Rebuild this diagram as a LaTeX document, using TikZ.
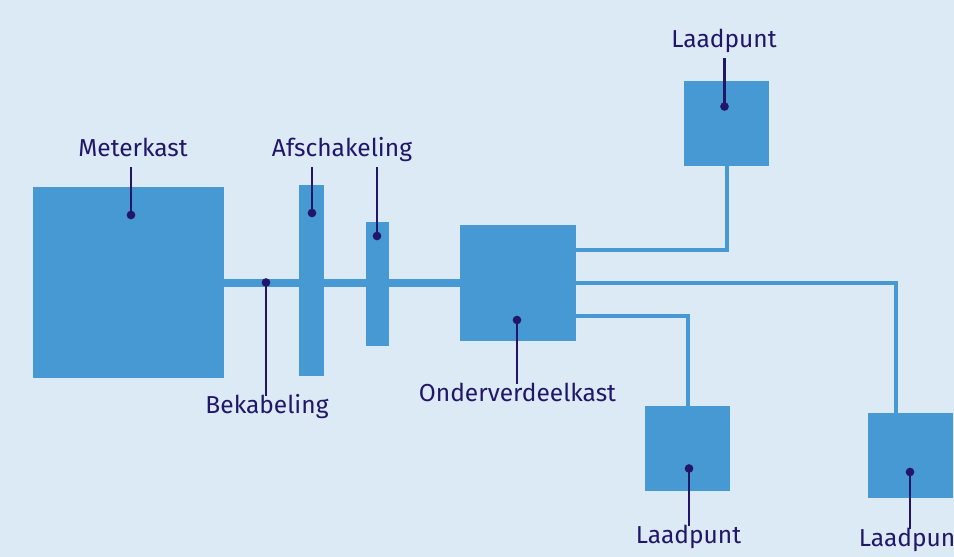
\documentclass[tikz,border=0pt]{standalone}
\usepackage{fontspec}
\setmainfont{Fira Sans}
\usetikzlibrary{positioning}
\definecolor{achter}{HTML}{DBEAF5}
\definecolor{kastblauw}{HTML}{4699D3}
\definecolor{inkt}{HTML}{21166A}
\tikzstyle{kast} = [shape=rectangle, fill=kastblauw, inner sep=0pt]
\tikzstyle{Laadkast} = [kast, minimum size=63.75pt]
\tikzstyle{tekst} = [text=inkt, font=\fontsize{18.4pt}{22pt}\selectfont,
	inner xsep=0pt, inner ysep=5.5pt, text height=0.72em, text depth=0.25em]
\tikzstyle{punt} = [shape=circle, fill=inkt, minimum size=6.5pt, inner sep=0pt]
\tikzstyle{wijzer} = [draw=inkt, line width=1.7pt]
\tikzstyle{hoofdkabel} = [draw=kastblauw, line width=6pt]
\tikzstyle{kabel} = [draw=kastblauw, line width=3pt]

\begin{document}
\begin{tikzpicture}[x=0.75pt, y=-0.75pt]
  \useasboundingbox (0,0) rectangle (954,557);
  \clip (0,0) rectangle (954,557);
  \fill [achter] (0,0) rectangle (954,557);

  \node (METER) [kast, minimum size=143.25pt] at (128.5,282.5) {};
  \node (AFS1) [kast, minimum width=18.75pt, minimum height=143.25pt] at (311.5,280.5) {};
  \node (AFS2) [kast, minimum width=17.25pt, minimum height=93pt] at (377.5,284) {};
  \node (OVK) [kast, minimum size=87pt] at (518,282.5) {};
  \node (LP1) [Laadkast] at (726.5,123.5) {};
  \node (LP2) [Laadkast] at (687.5,448.5) {};
  \node (LP3) [Laadkast] at (910.5,455.5) {};

  \draw [hoofdkabel] (METER.east) -- (OVK.west);
  \draw [kabel] ([yshift=24.75pt]OVK.east) -| (LP1.south);
  \draw [kabel] (OVK.east) -| ([xshift=-11.25pt]LP3.north);
  \draw [kabel] ([yshift=-24.75pt]OVK.east) -| (LP2.north);

  \node (METERtxt) [tekst, anchor=base] at (133,156) {Meterkast};
  \node (AFStxt) [tekst, anchor=base] at (342,156.5) {Afschakeling};
  \node (BEKtxt) [tekst, anchor=base] at (267,413) {Bekabeling};
  \node (OVKtxt) [tekst, anchor=base] at (517.5,401.5) {Onderverdeelkast};
  \node (LP1txt) [tekst, anchor=base] at (724,47.5) {Laadpunt};
  \node (LP2txt) [tekst, anchor=base] at (688.5,543) {Laadpunt};
  \node (LP3txt) [tekst, anchor=base] at (911.5,546) {Laadpunt};

  \node (METERdot) [punt] at (131,215) {};
  \node (AFS1dot) [punt] at (312,213) {};
  \node (AFS2dot) [punt] at (377,236) {};
  \node (BEKdot) [punt] at (266,282.5) {};
  \node (OVKdot) [punt] at (517,320) {};
  \node (LP1dot) [punt] at (724.5,106.5) {};
  \node (LP2dot) [punt] at (689,468.5) {};
  \node (LP3dot) [punt] at (910,472) {};

  \draw [wijzer] (METERdot.center) -- (METERdot |- METERtxt.south);
  \draw [wijzer] (AFS1dot.center) -- (AFS1dot |- AFStxt.south);
  \draw [wijzer] (AFS2dot.center) -- (AFS2dot |- AFStxt.south);
  \draw [wijzer] (BEKdot.center) -- (BEKdot |- BEKtxt.north);
  \draw [wijzer] (OVKdot.center) -- (OVKdot |- OVKtxt.north);
  \draw [wijzer] (LP1dot.center) -- (LP1dot |- LP1txt.south);
  \draw [wijzer] (LP2dot.center) -- (LP2dot |- LP2txt.north);
  \draw [wijzer] (LP3dot.center) -- (LP3dot |- LP3txt.north);

\end{tikzpicture}
\end{document}
